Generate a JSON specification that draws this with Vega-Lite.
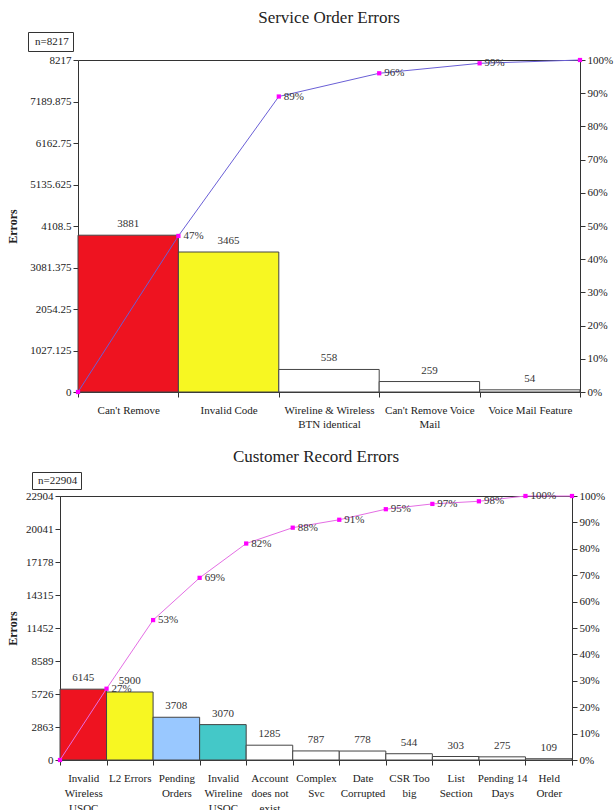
{
  "$schema": "https://vega.github.io/schema/vega-lite/v6.json",
  "background": "white",
  "padding": {"top": 8, "left": 6, "right": 4, "bottom": 0},
  "spacing": 18,
  "columns": 1,
  "align": "none",
  "datasets": {
    "serviceBars": [
      {"category": "Can't Remove", "errors": 3881},
      {"category": "Invalid Code", "errors": 3465},
      {"category": "Wireline & Wireless BTN identical", "errors": 558},
      {"category": "Can't Remove Voice Mail", "errors": 259},
      {"category": "Voice Mail Feature", "errors": 54}
    ],
    "serviceCum": [
      {"k": 0, "cum": 0},
      {"k": 1, "cum": 0.47},
      {"k": 2, "cum": 0.89},
      {"k": 3, "cum": 0.96},
      {"k": 4, "cum": 0.99},
      {"k": 5, "cum": 1.0}
    ],
    "recordBars": [
      {"category": "Invalid Wireless USOC", "errors": 6145},
      {"category": "L2 Errors", "errors": 5900},
      {"category": "Pending Orders", "errors": 3708},
      {"category": "Invalid Wireline USOC", "errors": 3070},
      {"category": "Account does not exist", "errors": 1285},
      {"category": "Complex Svc", "errors": 787},
      {"category": "Date Corrupted", "errors": 778},
      {"category": "CSR Too big", "errors": 544},
      {"category": "List Section", "errors": 303},
      {"category": "Pending 14 Days", "errors": 275},
      {"category": "Held Order", "errors": 109}
    ],
    "recordCum": [
      {"k": 0, "cum": 0},
      {"k": 1, "cum": 0.27},
      {"k": 2, "cum": 0.53},
      {"k": 3, "cum": 0.69},
      {"k": 4, "cum": 0.82},
      {"k": 5, "cum": 0.88},
      {"k": 6, "cum": 0.91},
      {"k": 7, "cum": 0.95},
      {"k": 8, "cum": 0.97},
      {"k": 9, "cum": 0.98},
      {"k": 10, "cum": 1.0},
      {"k": 11, "cum": 1.0}
    ]
  },
  "concat": [
    {
      "width": 520,
      "height": 332,
      "view": {"stroke": null},
      "title": {"text": "Service Order Errors", "frame": "group", "offset": 5, "dx": 9},
      "layer": [
        {
          "data": {"name": "serviceBars"},
          "encoding": {
            "x": {
              "field": "category", "type": "nominal", "sort": null,
              "scale": {"paddingInner": 0, "paddingOuter": 0, "range": [18, 520]},
              "axis": {
                "title": null, "labelAngle": 0, "tickBand": "extent", "labelPadding": 7,
                "labelLineHeight": 14, "labelLimit": 200,
                "labelExpr": "datum.label == 'Wireline & Wireless BTN identical' ? ['Wireline & Wireless', 'BTN identical'] : datum.label == \"Can't Remove Voice Mail\" ? [\"Can't Remove Voice\", 'Mail'] : datum.label"
              }
            },
            "y": {
              "field": "errors", "type": "quantitative",
              "scale": {"domain": [0, 8217], "nice": false, "zero": true},
              "axis": {
                "title": "Errors", "titleFontWeight": "bold", "titleFontSize": 12, "titlePadding": 10,
                "offset": -18,
                "values": [0, 1027.125, 2054.25, 3081.375, 4108.5, 5135.625, 6162.75, 7189.875, 8217],
                "labelExpr": "datum.value + ''"
              }
            }
          },
          "layer": [
            {
              "mark": {"type": "bar", "stroke": "#444", "strokeWidth": 1},
              "encoding": {
                "color": {
                  "field": "category", "type": "nominal", "legend": null,
                  "scale": {
                    "domain": ["Can't Remove", "Invalid Code", "Wireline & Wireless BTN identical", "Can't Remove Voice Mail", "Voice Mail Feature"],
                    "range": ["#ee1320", "#f7f722", "#ffffff", "#ffffff", "#ffffff"]
                  }
                }
              }
            },
            {
              "mark": {"type": "text", "baseline": "bottom", "dy": -6, "fontSize": 11, "color": "#333"},
              "encoding": {"text": {"field": "errors", "type": "quantitative"}}
            }
          ]
        },
        {
          "data": {"name": "serviceCum"},
          "encoding": {
            "x": {
              "field": "k", "type": "quantitative",
              "scale": {"domain": [0, 5], "nice": false, "range": [18, 520]},
              "axis": {"orient": "top", "title": null, "labels": false, "ticks": false, "domain": true}
            },
            "y": {
              "field": "cum", "type": "quantitative",
              "scale": {"domain": [0, 1], "nice": false},
              "axis": {"orient": "right", "title": null, "values": [0, 0.1, 0.2, 0.3, 0.4, 0.5, 0.6, 0.7, 0.8, 0.9, 1], "format": ".0%"}
            }
          },
          "layer": [
            {
              "mark": {"type": "line", "color": "#6a5fd6", "strokeWidth": 1,
                       "point": {"shape": "square", "size": 18, "filled": true, "color": "#ff00ff"}},
              "encoding": {
                "opacity": {
                  "datum": "n=8217", "type": "nominal", "scale": {"range": [1]},
                  "legend": {
                    "title": null, "orient": "none", "legendX": -32, "legendY": -28,
                    "strokeColor": "#333", "fillColor": "white", "padding": 4,
                    "symbolType": "circle", "symbolSize": 0, "symbolStrokeWidth": 0, "symbolOpacity": 0, "labelOffset": -8,
                    "labelFont": "Liberation Serif", "labelFontSize": 11, "labelColor": "#222"
                  }
                }
              }
            },
            {
              "transform": [{"filter": "datum.k > 0 && datum.k < 5"}],
              "mark": {"type": "text", "align": "left", "baseline": "middle", "dx": 5, "fontSize": 11, "color": "#333"},
              "encoding": {"text": {"field": "cum", "type": "quantitative", "format": ".0%"}}
            }
          ]
        }
      ],
      "resolve": {"scale": {"x": "independent", "y": "independent", "opacity": "independent"}}
    },
    {
      "width": 512,
      "height": 264,
      "title": {"text": "Customer Record Errors", "frame": "group", "offset": 6},
      "layer": [
        {
          "data": {"name": "recordBars"},
          "encoding": {
            "x": {
              "field": "category", "type": "nominal", "sort": null,
              "scale": {"paddingInner": 0, "paddingOuter": 0},
              "axis": {
                "title": null, "labelAngle": 0, "tickBand": "extent", "labelPadding": 7,
                "labelLineHeight": 15, "labelLimit": 200,
                "labelExpr": "split(replace(replace(replace(replace(datum.label, 'L2 Errors', 'L2\u00a0Errors'), 'CSR Too', 'CSR\u00a0Too'), 'Pending 14', 'Pending\u00a014'), 'does not', 'does\u00a0not'), ' ')"
              }
            },
            "y": {
              "field": "errors", "type": "quantitative",
              "scale": {"domain": [0, 22904], "nice": false, "zero": true},
              "axis": {
                "title": "Errors", "titleFontWeight": "bold", "titleFontSize": 12, "titlePadding": 6,
                "values": [0, 2863, 5726, 8589, 11452, 14315, 17178, 20041, 22904],
                "labelExpr": "datum.value + ''"
              }
            }
          },
          "layer": [
            {
              "mark": {"type": "bar", "stroke": "#444", "strokeWidth": 1},
              "encoding": {
                "color": {
                  "field": "category", "type": "nominal", "legend": null,
                  "scale": {
                    "domain": ["Invalid Wireless USOC", "L2 Errors", "Pending Orders", "Invalid Wireline USOC", "Account does not exist", "Complex Svc", "Date Corrupted", "CSR Too big", "List Section", "Pending 14 Days", "Held Order"],
                    "range": ["#ee1320", "#f7f722", "#99c8ff", "#44c8c8", "#ffffff", "#ffffff", "#ffffff", "#ffffff", "#ffffff", "#ffffff", "#ffffff"]
                  }
                }
              }
            },
            {
              "mark": {"type": "text", "baseline": "bottom", "dy": -6, "fontSize": 11, "color": "#333"},
              "encoding": {"text": {"field": "errors", "type": "quantitative"}}
            }
          ]
        },
        {
          "data": {"name": "recordCum"},
          "encoding": {
            "x": {"field": "k", "type": "quantitative", "scale": {"domain": [0, 11], "nice": false}, "axis": null},
            "y": {
              "field": "cum", "type": "quantitative",
              "scale": {"domain": [0, 1], "nice": false},
              "axis": {"orient": "right", "title": null, "values": [0, 0.1, 0.2, 0.3, 0.4, 0.5, 0.6, 0.7, 0.8, 0.9, 1], "format": ".0%"}
            }
          },
          "layer": [
            {
              "mark": {"type": "line", "color": "#e46ee4", "strokeWidth": 1,
                       "point": {"shape": "square", "size": 18, "filled": true, "color": "#ff00ff"}},
              "encoding": {
                "opacity": {
                  "datum": "n=22904", "type": "nominal", "scale": {"range": [1]},
                  "legend": {
                    "title": null, "orient": "none", "legendX": -28, "legendY": -24,
                    "strokeColor": "#333", "fillColor": "white", "padding": 3,
                    "symbolType": "circle", "symbolSize": 0, "symbolStrokeWidth": 0, "symbolOpacity": 0, "labelOffset": -8,
                    "labelFont": "Liberation Serif", "labelFontSize": 11, "labelColor": "#222"
                  }
                }
              }
            },
            {
              "transform": [{"filter": "datum.k > 0 && datum.k < 11"}],
              "mark": {"type": "text", "align": "left", "baseline": "middle", "dx": 5, "fontSize": 11, "color": "#333"},
              "encoding": {"text": {"field": "cum", "type": "quantitative", "format": ".0%"}}
            }
          ]
        }
      ],
      "resolve": {"scale": {"x": "independent", "y": "independent", "opacity": "independent"}}
    }
  ],
  "resolve": {
    "scale": {"opacity": "independent", "color": "independent", "x": "independent", "y": "independent"},
    "legend": {"opacity": "independent"}
  },
  "config": {
    "font": "Liberation Serif",
    "view": {"stroke": "#333", "strokeWidth": 1},
    "title": {"font": "Liberation Serif", "fontSize": 17, "fontWeight": "normal", "color": "#222"},
    "axis": {
      "labelFont": "Liberation Serif", "labelFontSize": 11, "labelColor": "#222",
      "titleFont": "Liberation Serif", "titleColor": "#222",
      "domainColor": "#333", "tickColor": "#333", "tickSize": 5, "grid": false
    }
  }
}
